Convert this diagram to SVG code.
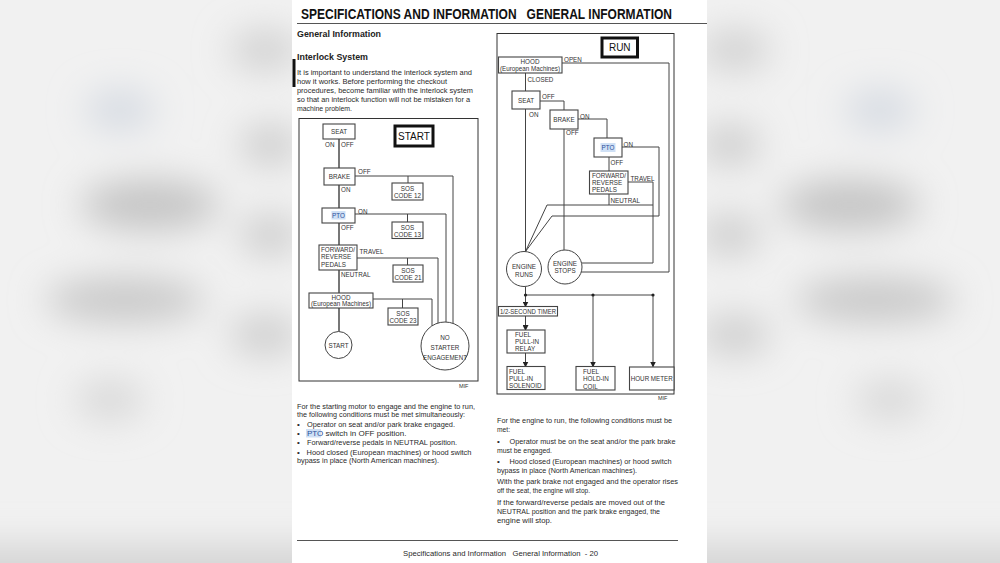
<svg xmlns="http://www.w3.org/2000/svg" width="1000" height="563" viewBox="0 0 1000 563">
<defs>
<filter id="blur" x="-50%" y="-50%" width="200%" height="200%"><feGaussianBlur stdDeviation="18"/></filter>
<marker id="arr" markerWidth="6" markerHeight="6" refX="5" refY="3" orient="auto" markerUnits="userSpaceOnUse"><path d="M0,0 L6,3 L0,6 Z" fill="#222"/></marker>
<style>
text{font-family:"Liberation Sans",Arial,sans-serif;fill:#222}
.title{font-size:14px;font-weight:bold;fill:#111}
.h{font-size:9.5px;font-weight:bold;fill:#222}
.p{font-size:8px;fill:#2a2a2a}
.lbl{font-size:6.3px;fill:#333}
.c{text-anchor:middle}
.big{font-size:10px;fill:#111}
.box{fill:#fff;stroke:#444;stroke-width:1.1}
.tbox{fill:#fff;stroke:#111;stroke-width:3}
.frame{fill:none;stroke:#333;stroke-width:1}
.ln{fill:none;stroke:#444;stroke-width:1}
.spine{fill:none;stroke:#777;stroke-width:2}
.hl{fill:#cfe0f5}
.blue{fill:#2a4f9a}
.dot{fill:#222}
</style>
</defs>
<!-- blurred background -->
<rect x="0" y="0" width="1000" height="563" fill="#f1f1f1"/>
<g filter="url(#blur)">
<ellipse cx="150" cy="205" rx="70" ry="25" fill="#c4c4c4"/>
<ellipse cx="125" cy="300" rx="80" ry="22" fill="#c8c8c8"/>
<ellipse cx="120" cy="110" rx="35" ry="20" fill="#d5dae2"/>
<ellipse cx="265" cy="50" rx="35" ry="20" fill="#d0d0d0"/>
<ellipse cx="270" cy="145" rx="30" ry="20" fill="#cccccc"/>
<ellipse cx="270" cy="235" rx="30" ry="20" fill="#cccccc"/>
<ellipse cx="265" cy="335" rx="35" ry="20" fill="#cdcdcd"/>
<ellipse cx="110" cy="400" rx="35" ry="20" fill="#d8d8d8"/>
<ellipse cx="850" cy="205" rx="70" ry="25" fill="#c4c4c4"/>
<ellipse cx="875" cy="300" rx="80" ry="22" fill="#c8c8c8"/>
<ellipse cx="880" cy="110" rx="35" ry="20" fill="#d5dae2"/>
<ellipse cx="735" cy="50" rx="35" ry="20" fill="#d0d0d0"/>
<ellipse cx="730" cy="145" rx="30" ry="20" fill="#cccccc"/>
<ellipse cx="730" cy="235" rx="30" ry="20" fill="#cccccc"/>
<ellipse cx="735" cy="335" rx="35" ry="20" fill="#cdcdcd"/>
<ellipse cx="890" cy="400" rx="35" ry="20" fill="#d8d8d8"/>
<rect x="-50" y="545" width="1100" height="60" fill="#d4d4d4"/>
</g>
<!-- page -->
<rect x="292" y="0" width="415" height="563" fill="#fff"/>
<text class="title" x="301" y="18.5" xml:space="preserve" textLength="371" lengthAdjust="spacingAndGlyphs">SPECIFICATIONS AND INFORMATION   GENERAL INFORMATION</text>
<line x1="297" y1="23.5" x2="707" y2="23.5" stroke="#555" stroke-width="1.2"/>
<text class="h" x="297" y="37" textLength="84" lengthAdjust="spacingAndGlyphs">General Information</text>
<text class="h" x="297" y="59.5" textLength="71" lengthAdjust="spacingAndGlyphs">Interlock System</text>
<rect x="292.5" y="59" width="3" height="28" fill="#111"/>
<text class="p" x="297" y="74.5" textLength="175" lengthAdjust="spacingAndGlyphs">It is important to understand the interlock system and</text>
<text class="p" x="297" y="83.5" textLength="150" lengthAdjust="spacingAndGlyphs">how it works. Before performing the checkout</text>
<text class="p" x="297" y="92.5" textLength="176" lengthAdjust="spacingAndGlyphs">procedures, become familiar with the interlock system</text>
<text class="p" x="297" y="101.5" textLength="173" lengthAdjust="spacingAndGlyphs">so that an interlock function will not be mistaken for a</text>
<text class="p" x="297" y="110.5" textLength="55" lengthAdjust="spacingAndGlyphs">machine problem.</text>

<!-- LEFT (START) DIAGRAM -->
<rect class="frame" x="299" y="118.5" width="179" height="262.5"/>
<g id="start-connectors">
<path class="spine" d="M339,139 V168 M339,185 V208 M339,223 V245 M339,270 V293 M339,308 V331.5"/>
<path class="ln" d="M355,176 H453 V323.4 M355,214 H446 V322 M357,258 H438 V323 M373,299 H432 V325.8"/>
<path class="ln" d="M408,176 V183 M407.5,214 V222 M407.5,258 V265 M402.5,299 V308"/>
</g>
<g id="n-seat"><rect class="box" x="323" y="124" width="32" height="15"/><text class="lbl c" x="339" y="134">SEAT</text></g>
<text class="lbl" x="325" y="146.5">ON</text><text class="lbl" x="341" y="146.5">OFF</text>
<g id="n-startbox"><rect class="tbox" x="395" y="126" width="38" height="20"/><text class="big c" x="414" y="139.5">START</text></g>
<g id="n-brake"><rect class="box" x="324" y="168" width="31" height="17"/><text class="lbl c" x="339.5" y="179">BRAKE</text></g>
<text class="lbl" x="358" y="174">OFF</text><text class="lbl" x="341" y="191.5">ON</text>
<g id="n-sos12"><rect class="box" x="392" y="183" width="31" height="17"/><text class="lbl c" x="407.5" y="190.5">SOS</text><text class="lbl c" x="407.5" y="198">CODE 12</text></g>
<g id="n-pto"><rect class="box" x="322" y="208" width="33" height="15"/><rect class="hl" x="331.5" y="211" width="14" height="8.5"/><text class="lbl c blue" x="338.5" y="218">PTO</text></g>
<text class="lbl" x="358" y="213.5">ON</text><text class="lbl" x="341" y="230">OFF</text>
<g id="n-sos13"><rect class="box" x="392" y="222" width="31" height="16.5"/><text class="lbl c" x="407.5" y="229.5">SOS</text><text class="lbl c" x="407.5" y="236.5">CODE 13</text></g>
<g id="n-fwd"><rect class="box" x="319" y="245" width="38" height="25"/><text class="lbl" x="321" y="251.5">FORWARD/</text><text class="lbl" x="321" y="259">REVERSE</text><text class="lbl" x="321" y="266.5">PEDALS</text></g>
<text class="lbl" x="359.5" y="254">TRAVEL</text><text class="lbl" x="341" y="276.5">NEUTRAL</text>
<g id="n-sos21"><rect class="box" x="393" y="265" width="30" height="17"/><text class="lbl c" x="408" y="272.5">SOS</text><text class="lbl c" x="408" y="280">CODE 21</text></g>
<g id="n-hood1"><rect class="box" x="309" y="293" width="64" height="15"/><text class="lbl c" x="341" y="299.5">HOOD</text><text class="lbl c" x="341" y="306">(European Machines)</text></g>
<g id="n-sos23"><rect class="box" x="388" y="308" width="30" height="17"/><text class="lbl c" x="403" y="315.5">SOS</text><text class="lbl c" x="403" y="323">CODE 23</text></g>
<g id="n-start"><circle cx="338.5" cy="345" r="13.5" fill="#fff" stroke="#444" stroke-width="1"/><text class="lbl c" x="338.5" y="347.5">START</text></g>
<g id="n-nostart"><circle cx="445" cy="346" r="24" fill="#fff" stroke="#444" stroke-width="1"/><text class="lbl c" x="445" y="340">NO</text><text class="lbl c" x="445" y="350">STARTER</text><text class="lbl c" x="445" y="360" textLength="44" lengthAdjust="spacingAndGlyphs">ENGAGEMENT</text></g>
<text class="lbl" x="459" y="387.5" style="font-size:5.5px">MIF</text>

<!-- RIGHT (RUN) DIAGRAM -->
<rect class="frame" x="497" y="33.5" width="177" height="360.5"/>
<g id="run-connectors">
<path class="ln" d="M525.5,73 V91 M562,63 H669 V272 H581.2 M540,101 H564 V110 M525.5,109 V251.5 M578,119 H607 V138 M564,129 V250 M622,147 H659 V216 H552 L525.5,251.5 M609,157 V171 M628,182 H653 V263 H581.5 M609,194 V205 M653,205 H547 L525.5,251.5"/>
<path class="ln" d="M525.5,286.5 V295 H653"/>
<path class="ln" marker-end="url(#arr)" d="M525.5,295 V306.5"/>
<path class="ln" marker-end="url(#arr)" d="M593,295 V366.5"/>
<path class="ln" marker-end="url(#arr)" d="M653,295 V366.5"/>
<path class="ln" marker-end="url(#arr)" d="M525.5,316 V330"/>
<path class="ln" marker-end="url(#arr)" d="M525.5,353 V366.5"/>
<circle class="dot" cx="525.5" cy="295" r="1.6"/><circle class="dot" cx="593" cy="295" r="1.6"/><circle class="dot" cx="653" cy="295" r="1.6"/>
</g>
<g id="n-runbox"><rect class="tbox" x="602" y="38" width="35.5" height="19"/><text class="big c" x="619.75" y="51">RUN</text></g>
<g id="n-hood2"><rect class="box" x="498.5" y="57" width="63.5" height="16"/><text class="lbl c" x="530" y="64">HOOD</text><text class="lbl c" x="530" y="70.5">(European Machines)</text></g>
<text class="lbl" x="564" y="61.5">OPEN</text><text class="lbl" x="527.5" y="81.5">CLOSED</text>
<g id="n-seat2"><rect class="box" x="512" y="91" width="28" height="18"/><text class="lbl c" x="526" y="102.5">SEAT</text></g>
<text class="lbl" x="542" y="98.5">OFF</text><text class="lbl" x="529" y="116.5">ON</text>
<g id="n-brake2"><rect class="box" x="550" y="110" width="28" height="19"/><text class="lbl c" x="564" y="122">BRAKE</text></g>
<text class="lbl" x="580" y="119">ON</text><text class="lbl" x="566" y="135">OFF</text>
<g id="n-pto2"><rect class="box" x="594" y="138" width="28" height="19"/><rect class="hl" x="600.5" y="143" width="15" height="9"/><text class="lbl c blue" x="608" y="150">PTO</text></g>
<text class="lbl" x="623.5" y="146.5">ON</text><text class="lbl" x="610.5" y="164.5">OFF</text>
<g id="n-fwd2"><rect class="box" x="589.5" y="171" width="38.5" height="23"/><text class="lbl" x="592" y="178">FORWARD/</text><text class="lbl" x="592" y="185">REVERSE</text><text class="lbl" x="592" y="192">PEDALS</text></g>
<text class="lbl" x="630.5" y="180.5">TRAVEL</text><text class="lbl" x="610.5" y="202.5">NEUTRAL</text>
<g id="n-runs"><circle cx="524" cy="269" r="17.5" fill="#fff" stroke="#444" stroke-width="1"/><text class="lbl c" x="524" y="268.5">ENGINE</text><text class="lbl c" x="524" y="276.5">RUNS</text></g>
<g id="n-stops"><circle cx="565" cy="267" r="17" fill="#fff" stroke="#444" stroke-width="1"/><text class="lbl c" x="565" y="265.5">ENGINE</text><text class="lbl c" x="565" y="273">STOPS</text></g>
<g id="n-timer"><rect class="box" x="498.5" y="306.5" width="59" height="9.5"/><text class="lbl c" x="528" y="313.8" textLength="56" lengthAdjust="spacingAndGlyphs">1/2-SECOND TIMER</text></g>
<g id="n-relay"><rect class="box" x="507" y="330" width="38" height="23"/><text class="lbl" x="515" y="336.5">FUEL</text><text class="lbl" x="515" y="343.5">PULL-IN</text><text class="lbl" x="515" y="350.5">RELAY</text></g>
<g id="n-solenoid"><rect class="box" x="507" y="366.5" width="38" height="23"/><text class="lbl" x="509" y="374">FUEL</text><text class="lbl" x="509" y="381">PULL-IN</text><text class="lbl" x="509" y="388">SOLENOID</text></g>
<g id="n-coil"><rect class="box" x="576" y="366.5" width="39" height="23.5"/><text class="lbl" x="583" y="374">FUEL</text><text class="lbl" x="583" y="381">HOLD-IN</text><text class="lbl" x="583" y="388.5">COIL</text></g>
<g id="n-hour"><rect class="box" x="629.5" y="367" width="44.5" height="23"/><text class="lbl c" x="651.75" y="381" textLength="42" lengthAdjust="spacingAndGlyphs">HOUR METER</text></g>
<text class="lbl" x="658" y="400" style="font-size:5.5px">MIF</text>

<!-- bottom-left text -->
<text class="p" x="297" y="408.5" textLength="178" lengthAdjust="spacingAndGlyphs">For the starting motor to engage and the engine to run,</text>
<text class="p" x="297" y="417" textLength="168" lengthAdjust="spacingAndGlyphs">the following conditions must be met simultaneously:</text>
<text class="p" x="297" y="427">•</text><text class="p" x="307" y="427" textLength="148" lengthAdjust="spacingAndGlyphs">Operator on seat and/or park brake engaged.</text>
<text class="p" x="297" y="435.5">•</text><rect class="hl" x="306" y="429" width="15" height="8.5"/><text class="p" x="307" y="435.5"><tspan class="blue">PTO</tspan> switch in OFF position.</text>
<text class="p" x="297" y="444.5">•</text><text class="p" x="307" y="444.5" textLength="150" lengthAdjust="spacingAndGlyphs">Forward/reverse pedals in NEUTRAL position.</text>
<text class="p" x="297" y="454.5">•</text><text class="p" x="306.5" y="454.5" textLength="165" lengthAdjust="spacingAndGlyphs">Hood closed (European machines) or hood switch</text>
<text class="p" x="297" y="462.5" textLength="142" lengthAdjust="spacingAndGlyphs">bypass in place (North American machines).</text>

<!-- bottom-right text -->
<text class="p" x="497" y="423" textLength="175" lengthAdjust="spacingAndGlyphs">For the engine to run, the following conditions must be</text>
<text class="p" x="497" y="432" textLength="13" lengthAdjust="spacingAndGlyphs">met:</text>
<text class="p" x="497" y="444">•</text><text class="p" x="509.5" y="444" textLength="166" lengthAdjust="spacingAndGlyphs">Operator must be on the seat and/or the park brake</text>
<text class="p" x="497" y="452.5" textLength="55" lengthAdjust="spacingAndGlyphs">must be engaged.</text>
<text class="p" x="497" y="464">•</text><text class="p" x="509.5" y="464" textLength="162" lengthAdjust="spacingAndGlyphs">Hood closed (European machines) or hood switch</text>
<text class="p" x="497" y="472.5" textLength="140" lengthAdjust="spacingAndGlyphs">bypass in place (North American machines).</text>
<text class="p" x="497" y="484" textLength="181" lengthAdjust="spacingAndGlyphs">With the park brake not engaged and the operator rises</text>
<text class="p" x="497" y="492.5" textLength="93" lengthAdjust="spacingAndGlyphs">off the seat, the engine will stop.</text>
<text class="p" x="497" y="505" textLength="168" lengthAdjust="spacingAndGlyphs">If the forward/reverse pedals are moved out of the</text>
<text class="p" x="497" y="514" textLength="163" lengthAdjust="spacingAndGlyphs">NEUTRAL position and the park brake engaged, the</text>
<text class="p" x="497" y="522.5" textLength="55" lengthAdjust="spacingAndGlyphs">engine will stop.</text>

<!-- footer -->
<line x1="297" y1="540.5" x2="678" y2="540.5" stroke="#555" stroke-width="1"/>
<text class="p" x="403" y="556" xml:space="preserve" textLength="195" lengthAdjust="spacingAndGlyphs">Specifications and Information   General Information  - 20</text>
</svg>
